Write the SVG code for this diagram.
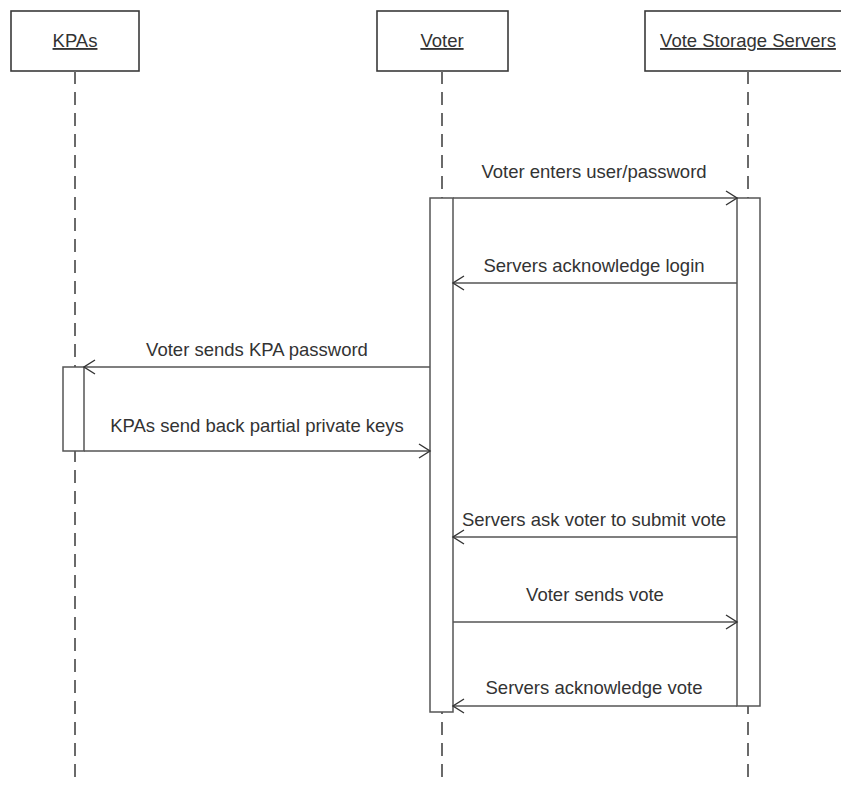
<svg xmlns="http://www.w3.org/2000/svg" width="841" height="785" viewBox="0 0 841 785">
<defs>
<style>
.box{fill:#fff;stroke:#3a3a3a;stroke-width:1.6}
.life{stroke:#6a6a6a;stroke-width:2;stroke-dasharray:13 8;fill:none}
.act{fill:#fff;stroke:#555;stroke-width:1.5}
.msg{stroke:#555;stroke-width:1.6;fill:none}
.head{stroke:#333;stroke-width:1.4;fill:none}
.t{font-family:"Liberation Sans",Arial,sans-serif;font-size:18.5px;fill:#333;text-anchor:middle}
.h{text-decoration:underline}
</style>
</defs>
<rect width="841" height="785" fill="#fff"/>
<g id="kpas">
<rect class="box" x="11" y="11" width="128" height="60"/>
<line class="life" x1="75" y1="71" x2="75" y2="785"/>
<text class="t h" x="75" y="47">KPAs</text>
</g>
<g id="voter">
<rect class="box" x="377" y="11" width="131" height="60"/>
<line class="life" x1="442" y1="71" x2="442" y2="785"/>
<text class="t h" x="442" y="47">Voter</text>
</g>
<g id="servers">
<rect class="box" x="645" y="11" width="206" height="60"/>
<line class="life" x1="748" y1="71" x2="748" y2="785"/>
<text class="t h" x="748" y="47">Vote Storage Servers</text>
</g>
<g id="activations">
<rect class="act" x="430" y="198" width="23" height="514"/>
<rect class="act" x="737" y="198" width="23" height="508"/>
<rect class="act" x="63" y="367" width="21" height="84"/>
</g>
<g id="connectors">
<line class="msg" x1="453" y1="198" x2="737" y2="198"/>
<path class="head" d="M726,191 L737,198 L726,205"/>
<text class="t" x="594" y="178">Voter enters user/password</text>

<line class="msg" x1="737" y1="283" x2="453" y2="283"/>
<path class="head" d="M464,276 L453,283 L464,290"/>
<text class="t" x="594" y="272">Servers acknowledge login</text>

<line class="msg" x1="430" y1="367" x2="84" y2="367"/>
<path class="head" d="M95,360 L84,367 L95,374"/>
<text class="t" x="257" y="356">Voter sends KPA password</text>

<line class="msg" x1="84" y1="451" x2="430" y2="451"/>
<path class="head" d="M419,444 L430,451 L419,458"/>
<text class="t" x="257" y="432">KPAs send back partial private keys</text>

<line class="msg" x1="737" y1="537" x2="453" y2="537"/>
<path class="head" d="M464,530 L453,537 L464,544"/>
<text class="t" x="594" y="526">Servers ask voter to submit vote</text>

<line class="msg" x1="453" y1="622" x2="737" y2="622"/>
<path class="head" d="M726,615 L737,622 L726,629"/>
<text class="t" x="595" y="601">Voter sends vote</text>

<line class="msg" x1="737" y1="706" x2="453" y2="706"/>
<path class="head" d="M464,699 L453,706 L464,713"/>
<text class="t" x="594" y="694">Servers acknowledge vote</text>
</g>
</svg>
